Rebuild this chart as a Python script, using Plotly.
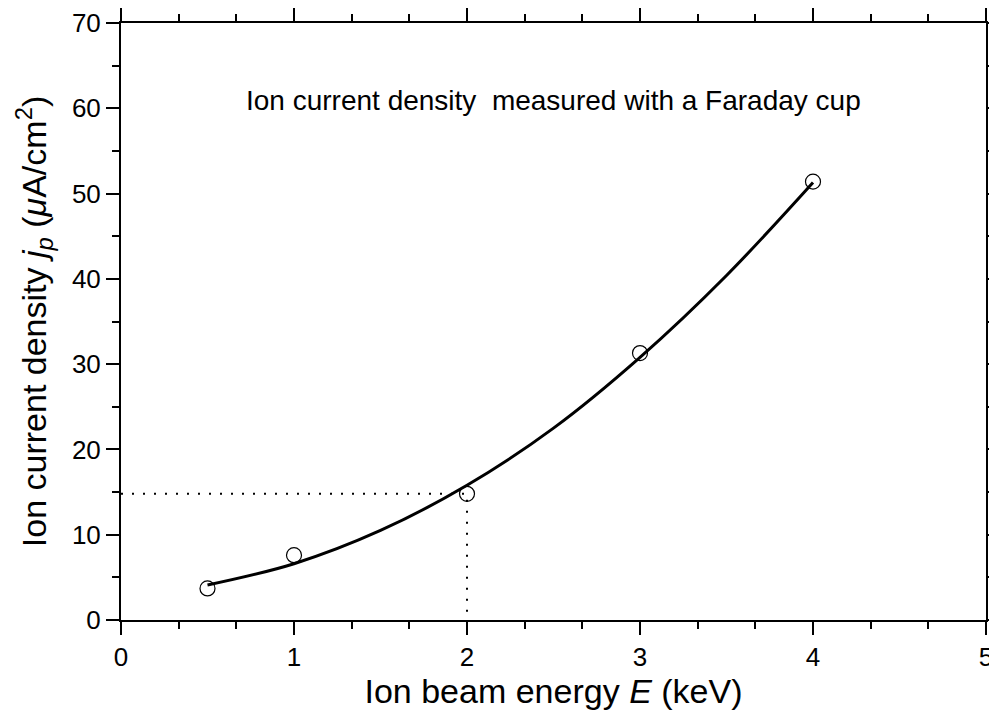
import plotly.graph_objects as go

# measured data
energy = [0.5, 1, 2, 3, 4]
current = [3.7, 7.6, 14.8, 31.3, 51.4]

# fitted curve
fit_energy = [0.5, 1.0, 1.5, 2.0, 2.5, 3.0, 3.5, 4.0]
fit_current = [4.1, 6.6, 10.5, 15.8, 22.5, 30.8, 40.4, 51.3]

# guide lines
guide_x = [0, 2, 2]
guide_y = [14.8, 14.8, 0]

FONT = "Liberation Sans, Arial, sans-serif"

fig = go.Figure()
fig.add_trace(go.Scatter(x=guide_x, y=guide_y, mode="lines",
                         line=dict(color="black", width=2, dash="2px,9px"),
                         showlegend=False, hoverinfo="skip"))
fig.add_trace(go.Scatter(x=fit_energy, y=fit_current, mode="lines",
                         line=dict(color="black", width=3, shape="spline"),
                         showlegend=False))
fig.add_trace(go.Scatter(x=energy, y=current, mode="markers",
                         marker=dict(symbol="circle-open", size=15,
                                     color="black", line=dict(width=1.2, color="black")),
                         showlegend=False))

axis_common = dict(showgrid=False, zeroline=False, showline=True, linecolor="black",
                   linewidth=2, ticks="outside", ticklen=13, tickwidth=2,
                   tickcolor="black", mirror="allticks", automargin=False,
                   ticklabeloverflow="allow",
                   tickfont=dict(family=FONT, size=26, color="black"))

fig.update_xaxes(range=[0, 5], tickvals=[0, 1, 2, 3, 4, 5],
                 ticklabelstandoff=0,
                 minor=dict(dtick=1/3, tick0=0, ticklen=7, tickwidth=2,
                            tickcolor="black", ticks="outside"),
                 title=dict(text="Ion beam energy <i>E</i> (keV)",
                            font=dict(family=FONT, size=34, color="black"),
                            standoff=7),
                 **axis_common)
fig.update_yaxes(range=[0, 70], tickvals=[0, 10, 20, 30, 40, 50, 60, 70],
                 minor=dict(dtick=5, tick0=0, ticklen=7, tickwidth=2,
                            tickcolor="black", ticks="outside"),
                 title=dict(text="Ion current density <i>j</i><sub><i>p</i></sub> (<i>μ</i>A/cm<sup>2</sup>)",
                            font=dict(family=FONT, size=34, color="black"),
                            standoff=15),
                 **axis_common)

fig.add_annotation(x=0.5, y=0.87, xref="paper", yref="paper",
                   text="Ion current density  measured with a Faraday cup",
                   showarrow=False, xanchor="center", yanchor="middle",
                   font=dict(family=FONT, size=28, color="black"))

fig.update_layout(width=989, height=719,
                  margin=dict(l=121, r=3, t=23, b=99),
                  plot_bgcolor="white", paper_bgcolor="white")

fig.write_html("out.html")
